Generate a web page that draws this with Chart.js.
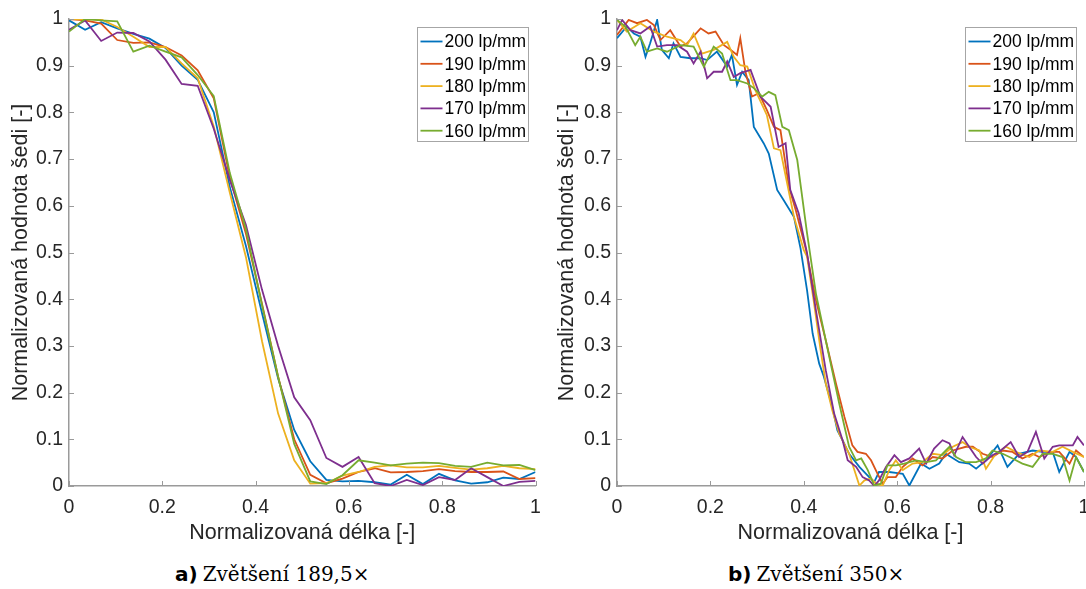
<!DOCTYPE html>
<html>
<head>
<meta charset="utf-8">
<script src="https://cdn.jsdelivr.net/npm/chart.js@4"></script>
<style>
  html, body { margin: 0; padding: 0; background: #fff; overflow: hidden; }
  body { width: 1086px; height: 589px; position: relative; }
  .panel { position: absolute; top: 0; }
  #leftPanel { left: 0; }
  #rightPanel { left: 543px; }
  .caption { position: absolute; top: 562px; font-family: "DejaVu Serif", serif; font-size: 20px; color: #000; white-space: nowrap; }
  .caption b { font-family: "DejaVu Sans", sans-serif; font-weight: bold; margin-right: 5px; }
</style>
</head>
<body>
<div class="panel" id="leftPanel"><canvas id="chartA" width="543" height="550"></canvas></div>
<div class="panel" id="rightPanel"><canvas id="chartB" width="550" height="550"></canvas></div>
<div class="caption" style="left:175px"><b>a)</b>Zvětšení 189,5×</div>
<div class="caption" style="left:728px"><b>b)</b>Zvětšení 350×</div>
<script>
// ---- data ----
const seriesLabels = ['200 lp/mm', '190 lp/mm', '180 lp/mm', '170 lp/mm', '160 lp/mm'];
const seriesColors = ['#0072BD', '#D95319', '#EDB120', '#7E2F8E', '#77AC30'];

// a) zvětšení 189,5x  (společná osa x)
const xA = [0, .0345, .069, .1034, .1379, .1724, .2069, .2414, .2759, .3103, .3448, .3793, .4138, .4483, .4828,
  .5172, .5517, .5862, .6207, .6552, .6897, .7241, .7586, .7931, .8276, .8621, .8966, .931, .9655, 1];
const a200 = [.997, .977, .993, .98, .968, .958, .938, .90, .87, .80, .64, .514, .37, .23, .12, .053, .013, .01, .011, .008, .003, .024, .004, .026, .012, .005, .008, .018, .015, .03];
const a190 = [1.0, .997, .99, .955, .949, .95, .94, .922, .89, .83, .66, .54, .39, .234, .10, .024, .006, .016, .03, .038, .029, .03, .032, .036, .032, .03, .03, .031, .015, .017];
const a180 = [1.0, .999, .999, .983, .962, .94, .94, .905, .873, .77, .628, .49, .31, .155, .055, .005, .006, .022, .03, .041, .044, .04, .04, .043, .039, .035, .038, .043, .038, .036];
const a170 = [.977, .997, .953, .971, .970, .952, .913, .861, .857, .765, .655, .559, .42, .30, .19, .141, .06, .041, .062, .006, 0, .013, .002, .019, .013, .038, .019, 0, .009, .011];
const a160 = [.973, 1.0, .997, .995, .93, .943, .93, .918, .88, .835, .67, .55, .387, .234, .09, .01, .004, .023, .055, .05, .044, .048, .05, .049, .043, .041, .05, .044, .045, .034];

// b) zvětšení 350x  (každá řada má vlastní vzorky)
const b200x = [0, .021, .036, .05, .061, .071, .086, .096, .111, .121, .136, .157, .179, .193, .214, .236, .246, .257, .268, .282,
  .293, .314, .325, .343, .357, .379, .393, .407, .419, .433, .443, .461, .472, .483, .497, .519, .54, .551, .561, .583,
  .597, .612, .626, .651, .669, .69, .704, .733, .754, .769, .79, .815, .836, .861, .89, .911, .933, .947, .969, .983, 1];
const b200y = [.959, .984, .969, .962, .919, .948, .998, .934, .916, .948, .919, .916, .916, .912, .93, .898, .923, .859, .887, .869,
  .769, .734, .712, .634, .612, .576, .509, .419, .326, .262, .234, .169, .119, .098, .069, .041, .019, .009, .03, .03,
  .028, .026, .001, .048, .037, .048, .069, .051, .048, .037, .055, .087, .041, .069, .076, .073, .073, .03, .073, .062, .03];
const b190x = [0, .025, .043, .064, .079, .093, .114, .136, .15, .179, .196, .211, .229, .243, .257, .264, .275, .289, .304, .321,
  .336, .35, .368, .383, .405, .426, .447, .469, .487, .504, .515, .533, .544, .558, .569, .579, .597, .612, .633, .654,
  .676, .697, .719, .747, .762, .783, .804, .826, .847, .868, .89, .904, .926, .947, .969, .983, 1];
const b190y = [.966, .998, .991, .998, .987, .955, .976, .941, .948, .98, .969, .973, .944, .934, .923, .959, .887, .834, .841, .805,
  .769, .762, .641, .59, .505, .398, .312, .219, .148, .087, .073, .069, .055, .026, .005, .019, .019, .041, .059, .044,
  .062, .059, .076, .084, .084, .069, .062, .076, .073, .059, .069, .062, .073, .073, .048, .076, .062];
const b180x = [0, .021, .05, .079, .107, .136, .15, .164, .182, .207, .236, .25, .264, .279, .296, .321, .336, .35, .379, .4,
  .407, .421, .436, .447, .461, .476, .497, .519, .53, .544, .555, .569, .583, .597, .612, .633, .654, .676, .697, .719,
  .74, .754, .776, .79, .811, .833, .854, .883, .904, .933, .954, .976, 1];
const b180y = [.998, .973, .991, .973, .962, .955, .944, .969, .926, .934, .951, .919, .901, .898, .848, .794, .723, .719, .576, .505,
  .491, .398, .291, .22, .162, .112, .069, .001, .012, .016, .005, .001, .034, .055, .034, .048, .051, .069, .066, .084,
  .094, .084, .076, .037, .069, .084, .073, .062, .076, .073, .084, .073, .062];
const b170x = [0, .011, .029, .05, .071, .086, .107, .129, .15, .164, .179, .193, .207, .225, .236, .25, .264, .286, .307, .329,
  .346, .361, .371, .389, .407, .426, .447, .465, .483, .494, .512, .526, .54, .551, .561, .576, .594, .608, .626, .647,
  .662, .679, .697, .712, .722, .74, .754, .769, .783, .804, .818, .843, .861, .879, .897, .915, .933, .947, .976, .986, 1];
const b170y = [.976, .998, .976, .969, .984, .941, .944, .944, .93, .905, .93, .873, .887, .887, .909, .876, .884, .891, .834, .812,
  .726, .734, .634, .584, .498, .376, .248, .155, .098, .055, .041, .019, .012, 0, .012, .041, .066, .051, .059, .08,
  .048, .08, .098, .091, .066, .105, .084, .062, .048, .066, .073, .094, .062, .073, .116, .059, .084, .087, .087, .105, .087];
const b160x = [0, .018, .039, .05, .064, .086, .107, .136, .164, .186, .207, .225, .243, .257, .279, .293, .311, .325, .339, .354,
  .368, .386, .407, .426, .447, .476, .497, .512, .523, .537, .551, .565, .579, .597, .615, .64, .662, .683, .712, .726,
  .747, .769, .79, .804, .826, .847, .868, .89, .911, .933, .954, .969, .983, 1];
const b160y = [.998, .984, .944, .962, .93, .937, .93, .944, .941, .898, .941, .926, .869, .869, .862, .852, .834, .844, .837, .769,
  .762, .698, .541, .412, .312, .176, .084, .055, .059, .034, .001, .005, .044, .044, .048, .055, .051, .055, .084, .062,
  .051, .051, .059, .076, .069, .059, .048, .041, .069, .069, .062, .012, .062, .03];

const xTitle = 'Normalizovaná délka [-]';
const yTitle = 'Normalizovaná hodnota šedi [-]';

// ---- helpers ----
const FONT = '"Liberation Sans", Arial, sans-serif';
const TEXT = '#262626';
const AXIS = '#9a9a9a';

function pairs(xs, ys) {
  return xs.map((x, i) => ({ x, y: ys[i] }));
}

function buildDatasets(list) {
  return list.map((pts, i) => ({
    label: seriesLabels[i],
    data: pts,
    borderColor: seriesColors[i],
    backgroundColor: seriesColors[i],
    borderWidth: 1.8,
    pointRadius: 0,
    tension: 0,
    order: list.length - i   // posledni rada navrchu jako v MATLABu
  }));
}

// tiky dovnitř + legenda s rámečkem
const matlabLook = {
  id: 'matlabLook',
  afterDraw(chart) {
    const { ctx, chartArea: area, scales } = chart;
    ctx.save();
    ctx.strokeStyle = AXIS;
    ctx.lineWidth = 1;
    scales.x.ticks.forEach(t => {
      const px = Math.round(scales.x.getPixelForValue(t.value)) + 0.5;
      ctx.beginPath();
      ctx.moveTo(px, area.bottom);
      ctx.lineTo(px, area.bottom - 5);
      ctx.stroke();
    });
    scales.y.ticks.forEach(t => {
      const py = Math.round(scales.y.getPixelForValue(t.value)) + 0.5;
      ctx.beginPath();
      ctx.moveTo(area.left, py);
      ctx.lineTo(area.left + 5, py);
      ctx.stroke();
    });

    // legenda
    const w = 111, h = 114;
    const bx = Math.round(area.right - 8 - w) + 0.5;
    const by = Math.round(area.top + 8) + 0.5;
    ctx.fillStyle = '#fff';
    ctx.fillRect(bx, by, w, h);
    ctx.strokeStyle = '#a6a6a6';
    ctx.lineWidth = 1;
    ctx.strokeRect(bx, by, w, h);
    ctx.font = '17.5px ' + FONT;
    ctx.textBaseline = 'middle';
    ctx.textAlign = 'left';
    chart.data.datasets.forEach((ds, i) => {
      const cy = by + 14 + i * 22.3;
      ctx.strokeStyle = ds.borderColor;
      ctx.lineWidth = 1.8;
      ctx.beginPath();
      ctx.moveTo(bx + 3, cy);
      ctx.lineTo(bx + 25, cy);
      ctx.stroke();
      ctx.fillStyle = '#000';
      ctx.fillText(ds.label, bx + 27, cy + 1);
    });
    ctx.restore();
  }
};

function makeChart(id, datasets, yWidth, rightPad, yTitlePad) {
  return new Chart(document.getElementById(id), {
    type: 'line',
    data: { datasets },
    options: {
      responsive: false,
      animation: false,
      events: [],
      layout: { padding: { left: 0, top: 19, right: rightPad, bottom: 0 } },
      plugins: { legend: { display: false }, tooltip: { enabled: false } },
      scales: {
        x: {
          type: 'linear',
          min: 0,
          max: 1,
          // tickLength jen posune popisky dolu, samotne tiky kresli plugin
          grid: { display: false, drawTicks: true, tickLength: 10 },
          border: { color: AXIS, width: 1.5 },
          ticks: {
            stepSize: 0.2,
            padding: 0,
            color: TEXT,
            font: { family: FONT, size: 19.5 },
            maxRotation: 0,
            callback: v => String(+v.toFixed(1))
          },
          title: {
            display: true,
            text: xTitle,
            color: TEXT,
            font: { family: FONT, size: 21.5 },
            padding: { top: 0, bottom: 4 }
          },
          afterFit: s => { s.height = 64; }
        },
        y: {
          type: 'linear',
          min: 0,
          max: 1,
          grid: { display: false, drawTicks: false },
          border: { color: AXIS, width: 1.5 },
          ticks: {
            stepSize: 0.1,
            padding: 6,
            color: TEXT,
            font: { family: FONT, size: 19.5 },
            callback: v => String(+v.toFixed(1))
          },
          title: {
            display: true,
            text: yTitle,
            color: TEXT,
            font: { family: FONT, size: 21.5 },
            padding: { top: yTitlePad, bottom: 0 }
          },
          afterFit: s => { s.width = yWidth; }
        }
      }
    },
    plugins: [matlabLook]
  });
}

makeChart('chartA', buildDatasets([
  pairs(xA, a200), pairs(xA, a190), pairs(xA, a180), pairs(xA, a170), pairs(xA, a160)
]), 69, 7.5, 8);

makeChart('chartB', buildDatasets([
  pairs(b200x, b200y), pairs(b190x, b190y), pairs(b180x, b180y), pairs(b170x, b170y), pairs(b160x, b160y)
]), 74, 9, 11);
</script>
</body>
</html>
